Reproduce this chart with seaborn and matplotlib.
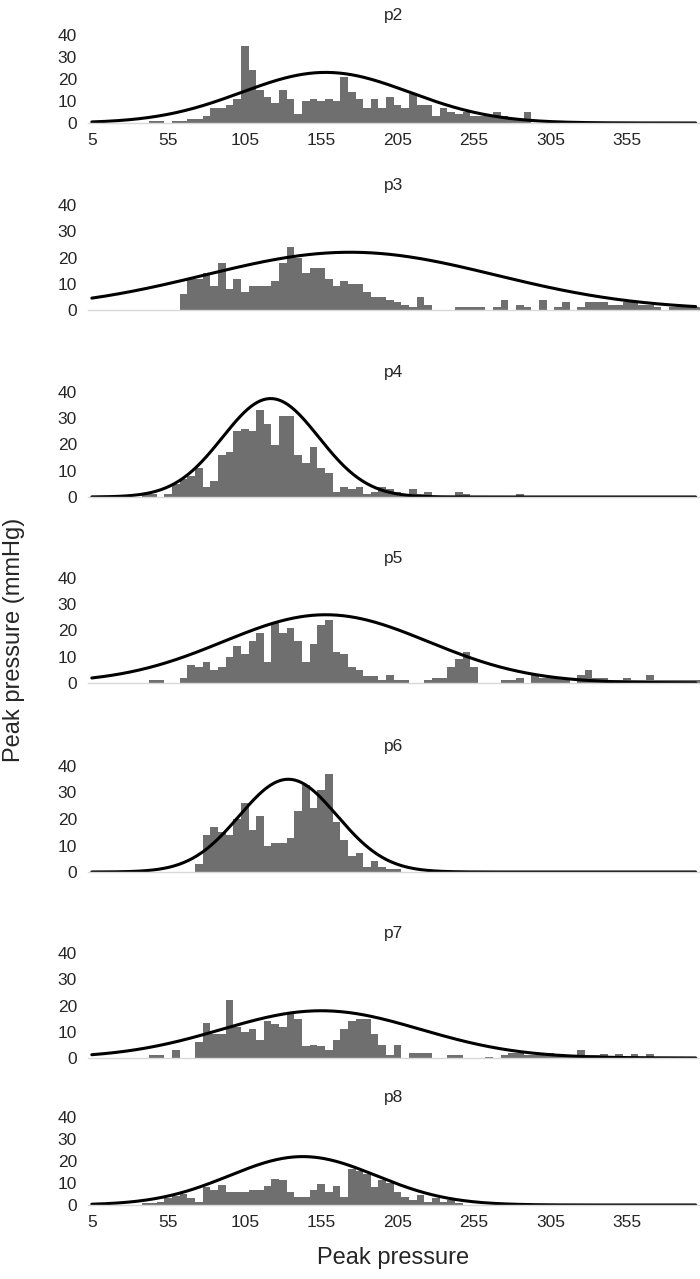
import numpy as np
import pandas as pd
import matplotlib
matplotlib.use("Agg")
import matplotlib.pyplot as plt
import seaborn as sns

# bins of 5 mmHg, centred on 5, 10, ..., 400
bin_centers = list(range(5, 401, 5))
bin_edges = [c - 2.5 for c in bin_centers] + [402.5]

panel_names = ["p2", "p3", "p4", "p5", "p6", "p7", "p8"]

# one value per bin, ten bins per line (5-50, 55-100, ..., 355-400)
p2 = [0, 0, 0, 0, 0, 0, 0, 0, 1, 1,
      0, 1, 1, 2, 2, 3, 7, 7, 8, 11,
      35, 24, 15, 12, 9, 15, 11, 4, 10, 11,
      10, 11, 10, 21, 14, 11, 7, 11, 7, 12,
      8, 7, 13, 8, 8, 3, 7, 5, 4, 5,
      3, 3, 3, 5, 3, 2, 2, 5, 0, 0,
      0, 0, 0, 0, 0, 0, 0, 0, 0, 0,
      0, 0, 0, 0, 0, 0, 0, 0, 0, 0]
p3 = [0, 0, 0, 0, 0, 0, 0, 0, 0, 0,
      0, 0, 6, 12, 12, 14, 9, 18, 8, 12,
      7, 9, 9, 9, 11, 18, 24, 20, 14, 16,
      16, 12, 9, 11, 10, 10, 7, 5, 5, 4,
      3, 2, 1, 5, 2, 0, 0, 0, 1, 1,
      1, 1, 0, 1, 4, 0, 2, 1, 0, 4,
      0, 1, 3, 0, 1, 3, 3, 3, 2, 2,
      3, 3, 2, 2, 1, 0, 1, 1, 1, 1]
p4 = [0, 0, 0, 0, 0, 0, 0, 1, 1, 0,
      1, 5, 7, 8, 11, 4, 6, 16, 17, 25,
      26, 25, 33, 28, 20, 31, 31, 16, 13, 19,
      11, 9, 2, 4, 3, 4, 1, 2, 4, 3,
      2, 1, 3, 1, 2, 0, 0, 0, 2, 1,
      0, 0, 0, 0, 0, 0, 1, 0, 0, 0,
      0, 0, 0, 0, 0, 0, 0, 0, 0, 0,
      0, 0, 0, 0, 0, 0, 0, 0, 0, 0]
p5 = [0, 0, 0, 0, 0, 0, 0, 0, 1, 1,
      0, 0, 2, 7, 6, 8, 5, 6, 10, 14,
      11, 16, 19, 8, 23, 19, 21, 16, 8, 15,
      22, 24, 12, 11, 6, 5, 2.5, 2.5, 1, 3,
      1, 1, 0, 0, 1, 2, 2, 6, 9, 12,
      6, 0, 0, 0, 1, 1, 2, 0, 3, 2,
      2, 2, 2, 0, 3, 5, 2, 2, 1, 1,
      2, 1, 1, 3, 1, 1, 1, 1, 1, 1]
p6 = [0, 0, 0, 0, 0, 0, 0, 0, 0, 0,
      0, 0, 0, 0, 3, 14, 17, 15, 14, 20,
      26, 16, 21, 10, 11, 11, 13, 23, 33, 24,
      31, 37, 19, 12, 6, 7, 2, 4, 2, 1,
      1, 0, 0, 0, 0, 0, 0, 0, 0, 0,
      0, 0, 0, 0, 0, 0, 0, 0, 0, 0,
      0, 0, 0, 0, 0, 0, 0, 0, 0, 0,
      0, 0, 0, 0, 0, 0, 0, 0, 0, 0]
p7 = [0, 0, 0, 0, 0, 0, 0, 0, 1, 1,
      0, 3, 0, 0, 6, 13.5, 9, 9, 22, 12,
      10, 11, 7, 14, 13, 12, 17, 15, 4.5, 5,
      4.5, 3, 7, 11, 14, 15, 15, 9, 5, 1,
      5, 0, 2, 2, 2, 0, 0, 1, 1, 0,
      0, 0, 0.5, 0, 1, 2, 2, 1, 1, 2,
      2, 1, 1, 1, 3, 1, 1, 1.5, 0, 1.5,
      0, 1.5, 0, 1.5, 0, 0, 0, 0.5, 0, 0]
p8 = [0, 0, 0, 0, 0, 0, 0, 1, 1, 1.5,
      3, 4, 5, 3, 1.5, 8, 7, 9, 6, 6,
      6, 7, 7, 8.5, 12, 11.5, 6, 3.5, 3.5, 7,
      9.5, 6, 8.5, 3.5, 16.5, 15.5, 14, 8, 11.5, 10,
      6, 3.5, 2.5, 4.5, 1.5, 3, 1.5, 2.5, 1, 0,
      0, 0, 0, 0, 0, 0, 0, 0, 0, 0,
      0, 0, 0, 0, 0, 0, 0, 0, 0, 0,
      0, 0, 0, 0, 0, 0, 0, 0, 0, 0]
panel_counts = [p2, p3, p4, p5, p6, p7, p8]

# fitted normal curve of each panel: mean, sd and height of the peak
curve_mean = [158, 174, 122, 158, 133.5, 155, 143]
curve_sd = [55, 95, 31.5, 67, 32, 65, 48]
curve_peak = [23, 22, 37.5, 26, 35, 18, 22]

y_ticks = [0, 10, 20, 30, 40]
x_ticks = [5, 55, 105, 155, 205, 255, 305, 355]

# panel top (y=40) and bottom (y=0) in pixels from the top of the image
panel_px = [(35, 123), (205, 310), (392, 497), (578, 683),
            (766, 872), (953, 1058), (1117, 1205)]

W, H = 700, 1279
sns.set_style("white")
plt.rcParams["font.family"] = ["Liberation Sans", "DejaVu Sans"]

fig = plt.figure(figsize=(W / 100, H / 100), dpi=100)
left_px, right_px = 88, 699.5
curve_x = np.arange(5, 400.5, 1.0)

for i, name in enumerate(panel_names):
    top, bot = panel_px[i]
    ax = fig.add_axes([left_px / W, 1 - bot / H, (right_px - left_px) / W, (bot - top) / H])
    df = pd.DataFrame({"pressure": bin_centers, "n": panel_counts[i]})
    sns.histplot(data=df, x="pressure", weights="n", bins=bin_edges, ax=ax,
                 color="#6f6f6f", alpha=1, linewidth=0, edgecolor="none")
    curve_y = curve_peak[i] * np.exp(-0.5 * ((curve_x - curve_mean[i]) / curve_sd[i]) ** 2)
    sns.lineplot(x=curve_x, y=curve_y, ax=ax, color="black", linewidth=2.2)
    ax.set_xlim(2.5, 402.5)
    ax.set_ylim(0, 40)
    ax.set_yticks(y_ticks)
    ax.set_yticklabels([str(t) for t in y_ticks], fontsize=12.5)
    ax.set_xticks(x_ticks)
    if i in (0, len(panel_names) - 1):
        ax.set_xticklabels([str(t) for t in x_ticks], fontsize=12.5)
    else:
        ax.set_xticklabels([])
    ax.tick_params(axis="y", length=0, pad=8)
    ax.tick_params(axis="x", length=0, pad=7)
    ax.set_xlabel("")
    ax.set_ylabel("")
    ax.set_title(name, fontsize=12.5, pad=11)
    for s in ["top", "right", "left"]:
        ax.spines[s].set_visible(False)
    ax.spines["bottom"].set_color("#d9d9d9")
    ax.spines["bottom"].set_linewidth(1)

fig.text(393 / W, 1 - 1258 / H, "Peak pressure", ha="center", va="center", fontsize=17)
fig.text(14 / W, 1 - 640 / H, "Peak pressure (mmHg)", ha="center", va="center",
         rotation=90, fontsize=17)

fig.savefig("out.png", dpi=100)
